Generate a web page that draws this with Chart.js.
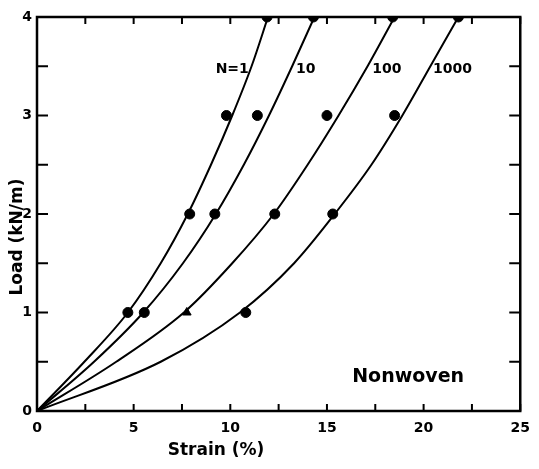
<!DOCTYPE html>
<html><head><meta charset="utf-8">
<script src="https://cdn.jsdelivr.net/npm/chart.js@4/dist/chart.umd.min.js"></script>
<style>html,body{margin:0;padding:0;background:#fff}</style>
</head><body>
<canvas id="c" width="539" height="469"></canvas>
<script>
// Curve readings: strain (%) at each load level (kN/m)
const curveLoads = [0, 0.5, 1, 1.5, 2, 2.5, 3, 3.5, 4];
const curveN1    = [0, 2.45, 4.7, 6.4, 7.8, 9.0, 10.1, 11.1, 11.95];
const curveN10   = [0, 2.95, 5.5, 7.55, 9.25, 10.7, 12.0, 13.2, 14.35];
const curveN100  = [0, 4.1, 7.6, 10.1, 12.25, 14.0, 15.6, 17.1, 18.5];
const curveN1000 = [0, 6.4, 10.5, 13.3, 15.4, 17.3, 18.9, 20.35, 21.8];
// Measured points
const pointLoads = [1, 2, 3, 4];
const ptsN1    = [4.7, 7.9, 9.8, 11.9];
const ptsN10   = [5.55, 9.2, 11.4, 14.3];
const ptsN100  = [7.75, 12.3, 15.0, 18.4];
const ptsN1000 = [10.8, 15.3, 18.5, 21.8];
const stylesN100 = ['triangle', 'circle', 'circle', 'circle'];
// Axes
const xTicks = [0, 5, 10, 15, 20, 25];
const yTicks = [0, 1, 2, 3, 4];
const xMinorStep = 2.5;
const yMinorStep = 0.5;
// Labels
const curveLabels = ['N=1', '10', '100', '1000'];
const curveLabelStrain = [10.1, 13.9, 18.1, 21.5];
const curveLabelLoad = [3.47, 3.47, 3.47, 3.47];
const panelLabel = 'Nonwoven';
const panelLabelPos = [19.2, 0.34];
const xTitle = 'Strain (%)';
const yTitle = 'Load (kN/m)';

const toXY = (xs, ys) => xs.map((x, i) => ({x: x, y: ys[i]}));

const curveDs = (xs) => ({
  data: toXY(xs, curveLoads), showLine: true, borderColor: '#000', borderWidth: 2,
  pointRadius: 0, fill: false, cubicInterpolationMode: 'monotone', order: 2
});
const ptDs = (xs, styles) => ({
  data: toXY(xs, pointLoads), showLine: false, backgroundColor: '#000', borderColor: '#000',
  pointRadius: 5, pointStyle: styles || 'circle', borderWidth: 1, order: 1
});

const decor = {
  id: 'decor',
  afterDraw(chart) {
    const ctx = chart.ctx, a = chart.chartArea;
    const xs = chart.scales.x, ys = chart.scales.y;
    ctx.save();
    ctx.strokeStyle = '#000';
    ctx.lineWidth = 2.5;
    ctx.strokeRect(a.left, a.top, a.right - a.left, a.bottom - a.top);
    ctx.lineWidth = 2;
    ctx.beginPath();
    for (let v = xs.min; v <= xs.max + 1e-9; v += xMinorStep) {
      const px = xs.getPixelForValue(v);
      ctx.moveTo(px, a.bottom); ctx.lineTo(px, a.bottom - 7);
      ctx.moveTo(px, a.top); ctx.lineTo(px, a.top + 7);
    }
    for (let v = ys.min; v <= ys.max + 1e-9; v += yMinorStep) {
      const py = ys.getPixelForValue(v);
      ctx.moveTo(a.left, py); ctx.lineTo(a.left + 11, py);
      ctx.moveTo(a.right, py); ctx.lineTo(a.right - 11, py);
    }
    ctx.stroke();
    ctx.fillStyle = '#000';
    ctx.textAlign = 'center';
    ctx.textBaseline = 'middle';
    ctx.font = 'bold 14px "DejaVu Sans"';
    curveLabels.forEach((t, i) => {
      ctx.fillText(t, xs.getPixelForValue(curveLabelStrain[i]), ys.getPixelForValue(curveLabelLoad[i]));
    });
    ctx.font = 'bold 19px "DejaVu Sans"';
    ctx.fillText(panelLabel, xs.getPixelForValue(panelLabelPos[0]), ys.getPixelForValue(panelLabelPos[1]));
    ctx.font = 'bold 17px "DejaVu Sans"';
    ctx.fillText(xTitle, 216, 451);
    ctx.translate(18, 237);
    ctx.rotate(-Math.PI / 2);
    ctx.fillText(yTitle, 0, 0);
    ctx.restore();
  }
};

new Chart(document.getElementById('c'), {
  type: 'scatter',
  data: {
    datasets: [
      curveDs(curveN1), curveDs(curveN10), curveDs(curveN100), curveDs(curveN1000),
      ptDs(ptsN1), ptDs(ptsN10), ptDs(ptsN100, stylesN100), ptDs(ptsN1000)
    ]
  },
  options: {
    responsive: false, animation: false, devicePixelRatio: 1,
    layout: {padding: {top: 17, right: 12, left: 0, bottom: 0}},
    plugins: {legend: {display: false}, tooltip: {enabled: false}},
    scales: {
      x: {
        type: 'linear', min: 0, max: 25,
        afterFit: s => { s.height = 58; },
        afterBuildTicks: s => { s.ticks = xTicks.map(v => ({value: v})); },
        grid: {display: false, drawTicks: false},
        border: {display: false},
        ticks: {color: '#000', font: {family: 'DejaVu Sans', size: 14, weight: 'bold'}, padding: 9, maxRotation: 0}
      },
      y: {
        type: 'linear', min: 0, max: 4,
        afterFit: s => { s.width = 37; },
        afterBuildTicks: s => { s.ticks = yTicks.map(v => ({value: v})); },
        grid: {display: false, drawTicks: false},
        border: {display: false},
        ticks: {color: '#000', font: {family: 'DejaVu Sans', size: 14, weight: 'bold'}, padding: 5}
      }
    }
  },
  plugins: [decor]
});
</script>
</body></html>
